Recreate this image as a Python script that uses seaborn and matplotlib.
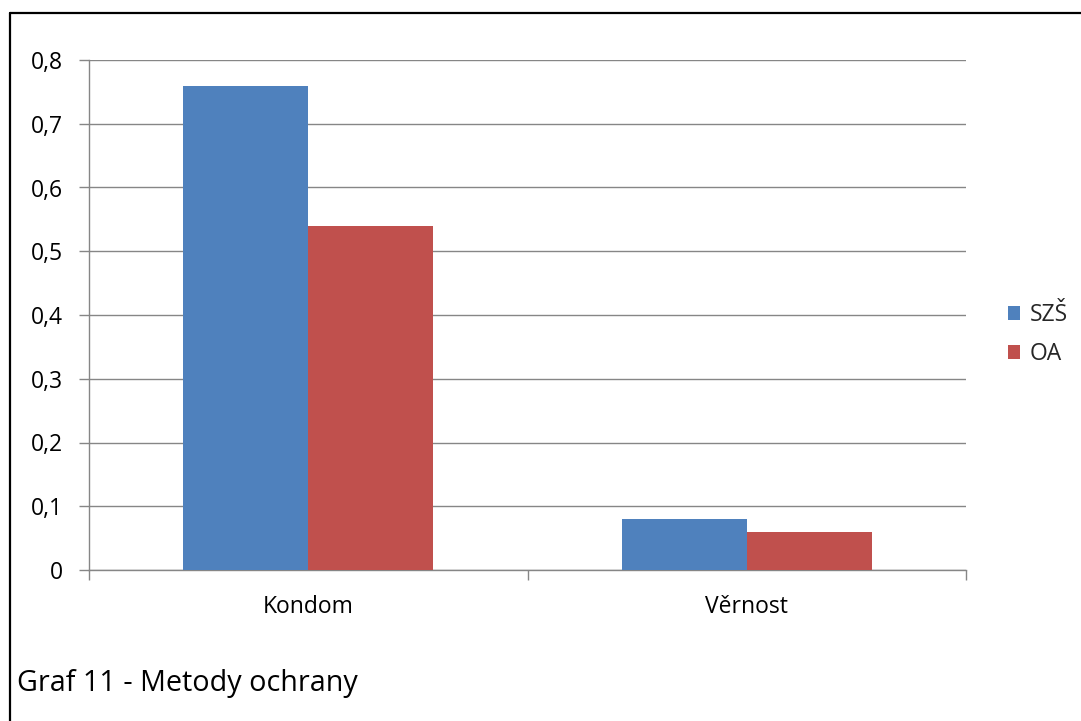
import matplotlib
matplotlib.use("Agg")
import matplotlib.pyplot as plt
from matplotlib.lines import Line2D
from matplotlib.patches import Patch
from matplotlib.ticker import FuncFormatter, MultipleLocator, FixedLocator
import seaborn as sns
import pandas as pd

categories = ["Kondom", "Věrnost"]
series = ["SZŠ", "OA"]
szs_values = [0.76, 0.08]
oa_values = [0.54, 0.06]
colors = ["#4F81BD", "#C0504D"]
caption = "Graf 11 - Metody ochrany"

df = pd.DataFrame({
    "kategorie": categories * 2,
    "skupina": [series[0]] * len(categories) + [series[1]] * len(categories),
    "hodnota": szs_values + oa_values,
})

sns.set_theme(style="white")
plt.rcParams["font.family"] = ["Open Sans", "DejaVu Sans"]

fig = plt.figure(figsize=(10.81, 7.21), dpi=100)
ax = fig.add_axes([89 / 1081, 1 - 570 / 721, (966 - 89) / 1081, (570 - 60) / 721])

sns.barplot(data=df, x="kategorie", y="hodnota", hue="skupina",
            palette=colors, width=0.571, ax=ax, saturation=1,
            edgecolor="none", linewidth=0, legend=False, zorder=3)

ax.set_xlim(-0.5, 1.5)
ax.set_ylim(0, 0.8)
ax.yaxis.set_major_locator(MultipleLocator(0.1))
ax.yaxis.set_major_formatter(FuncFormatter(
    lambda v, _: "0" if abs(v) < 1e-9 else f"{v:.1f}".replace(".", ",")))
ax.grid(axis="y", color="#868686", linewidth=1.0, zorder=0)
ax.set_xlabel("")
ax.set_ylabel("")

for side in ["top", "right"]:
    ax.spines[side].set_visible(False)
for side in ["left", "bottom"]:
    ax.spines[side].set_color("#868686")
    ax.spines[side].set_linewidth(1.0)

ax.tick_params(axis="y", which="major", left=True, length=7, width=1,
               color="#868686", labelsize=16.5, pad=12, labelcolor="black")
ax.xaxis.set_minor_locator(FixedLocator([-0.5, 0.5, 1.5]))
ax.tick_params(axis="x", which="major", bottom=False, labelsize=16.5,
               pad=12, labelcolor="black")
ax.tick_params(axis="x", which="minor", bottom=True, length=7, width=1,
               color="#868686")

handles = [Patch(facecolor=c, edgecolor="none") for c in colors]
fig.legend(handles, series, loc="center left",
           bbox_to_anchor=(1008 / 1081, 1 - 334.5 / 721), frameon=False,
           borderpad=0, borderaxespad=0,
           fontsize=16.5, handlelength=0.52, handleheight=0.52,
           handletextpad=0.44, labelspacing=0.65)

fig.text(17 / 1081, 1 - 683 / 721, caption, fontsize=20.7, va="center",
         ha="left", color="black")

# frame lines along the top and left edges
fig.add_artist(Line2D([10 / 1081, 1.0], [1 - 13 / 721] * 2,
                      color="black", linewidth=1.6, transform=fig.transFigure))
fig.add_artist(Line2D([10 / 1081] * 2, [1 - 13 / 721, 0.0],
                      color="black", linewidth=1.6, transform=fig.transFigure))

fig.savefig("out.png", dpi=100, facecolor="white")
